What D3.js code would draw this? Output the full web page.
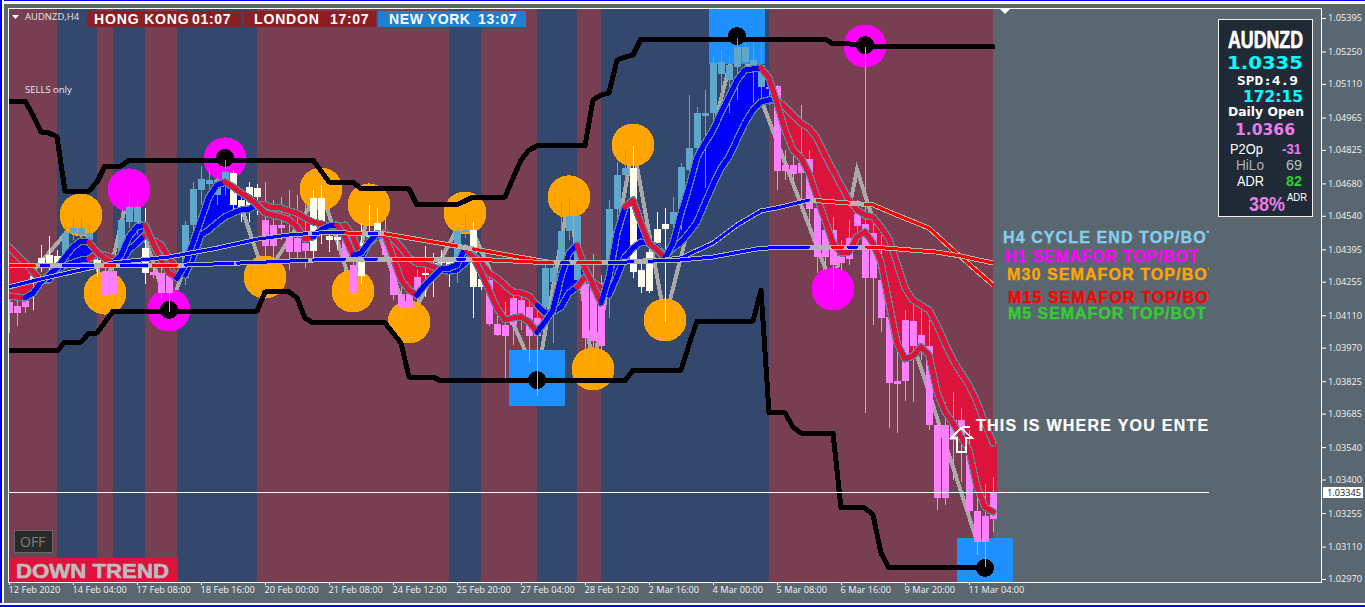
<!DOCTYPE html>
<html><head><meta charset="utf-8"><title>AUDNZD,H4</title>
<script src="https://cdn.jsdelivr.net/npm/d3@7"></script>
<style>html,body{margin:0;padding:0;background:#5b6770;overflow:hidden}svg{display:block}</style>
</head><body><div id="chart"></div>
<script>
// All prices are in points (1e-5). Bar index counts 4-hour bars from the left edge.
const priceTicks=[105395,105250,105110,104965,104825,104680,104540,104395,104255,104110,103970,103825,103685,103540,103400,103255,103110,102970];
const timeTickBars=[0,8,16,24,32,40,48,56,64,72,80,88,96,104,112,120];
const timeLabels=["12 Feb 2020","14 Feb 04:00","17 Feb 08:00","18 Feb 16:00","20 Feb 00:00","21 Feb 08:00","24 Feb 12:00","25 Feb 20:00","27 Feb 04:00","28 Feb 12:00","2 Mar 16:00","4 Mar 00:00","5 Mar 08:00","6 Mar 16:00","9 Mar 20:00","11 Mar 04:00"];
const lastPrice=103345;

const sessionStart=[0,6,11,13,17,21,31,55,59,66,71,74,95];
const sessionEnd=[6,11,13,17,21,31,55,59,66,71,74,95,123];
const sessionTrend=["down","up","down","up","down","up","down","up","down","up","down","up","down"];

const candleTone=["ppp","wwww","bbbb","w","pp","bbb","w","pppp","bbbbbb","wwww","pppppp","wwww","pp","www","ppppp","wwww","bb","ww","ppppppp","bbbbb","ppp","bbb","wwwww","bbbbbbbbbbbb","ppppppppppppppppppppppppppppp"].join("").split("");
const candleHigh=[104185,104176,104189,104306,104414,104453,104392,104509,104531,104531,104487,104383,104327,104327,104556,104643,104608,104574,104327,104314,104314,104306,104517,104686,104755,104746,104716,104781,104738,104652,104686,104678,104686,104608,104622,104652,104630,104587,104652,104673,104457,104457,104509,104414,104509,104587,104574,104535,104392,104263,104241,104306,104409,104379,104392,104349,104492,104548,104513,104306,104284,104176,104168,104219,104197,104176,104133,104340,104349,104600,104617,104574,104263,104375,104284,104608,104773,104824,104842,104340,104414,104556,104574,104622,104768,105062,105011,105084,105235,105257,105235,105309,105287,105287,105287,105127,105105,104824,104824,105019,104824,104652,104565,104535,104435,104522,104608,105270,104522,104457,104176,104046,104133,104168,104133,104090,103679,103735,103778,103709,103614,103355,103381,103411];
const candleBodyHigh=[104168,104150,104172,104280,104358,104370,104366,104466,104487,104487,104466,104349,104301,104301,104522,104578,104578,104400,104297,104293,104293,104276,104500,104656,104699,104695,104695,104729,104725,104608,104665,104660,104522,104500,104500,104449,104444,104422,104617,104617,104453,104449,104449,104327,104422,104470,104509,104426,104349,104202,104202,104276,104293,104336,104362,104340,104474,104479,104479,104267,104263,104072,104068,104185,104176,104146,104098,104314,104314,104474,104539,104539,104245,104263,104250,104569,104716,104746,104746,104306,104383,104483,104505,104556,104751,104833,104984,104984,105200,105205,105192,105270,105270,105213,105192,105097,105101,104760,104760,104768,104786,104574,104479,104479,104362,104444,104548,104505,104466,104263,104103,103826,104090,104085,104025,103977,103635,103635,103657,103657,103528,103264,103243,103346];
const candleBodyLow=[104120,104120,104146,104254,104314,104327,104336,104370,104466,104457,104435,104336,104193,104202,104379,104513,104513,104293,104284,104206,104206,104267,104271,104500,104652,104678,104630,104686,104587,104578,104578,104622,104409,104409,104487,104383,104383,104388,104388,104513,104435,104435,104362,104206,104280,104449,104470,104370,104197,104146,104146,104215,104284,104323,104336,104327,104362,104470,104232,104232,104072,104025,104020,104068,104107,104020,104020,104146,104254,104327,104474,104263,104012,103999,103977,104327,104569,104716,104297,104232,104215,104422,104483,104505,104543,104738,104833,104971,104984,105153,105127,105183,105205,105192,105097,105088,104734,104734,104721,104725,104569,104362,104362,104327,104336,104353,104496,104271,104271,104098,103817,103813,103826,103977,103977,103635,103320,103320,103571,103584,103264,103130,103130,103229];
const candleLow=[104033,104063,104120,104133,104297,104297,104314,104340,104435,104414,104400,104276,104176,104185,104340,104487,104457,104245,104271,104180,104124,104219,104241,104470,104587,104630,104587,104630,104543,104513,104513,104543,104271,104306,104435,104306,104349,104314,104340,104418,104383,104392,104284,104176,104245,104414,104435,104340,104176,104090,104072,104103,104189,104189,104306,104232,104250,104444,104098,104219,104063,104020,103839,103982,104046,103908,103761,104090,103990,104263,104435,104219,103895,103869,103960,104098,104500,104673,104271,104206,104206,104392,104081,104470,104479,104652,104781,104660,104932,104984,104984,105041,105149,105028,105041,105019,104652,104695,104673,104608,104500,104293,104306,104219,104306,104327,104435,103688,104068,104037,103623,103601,103739,103735,103917,103614,103268,103290,103398,103390,103247,103074,103022,103173];

const maFast=[104193,104189,104185,104206,104254,104284,104314,104362,104405,104431,104426,104383,104353,104336,104370,104449,104492,104500,104422,104349,104293,104271,104327,104426,104522,104622,104673,104686,104665,104639,104617,104587,104552,104543,104535,104522,104492,104440,104449,104479,104496,104500,104449,104370,104379,104426,104462,104457,104362,104263,104219,104197,104241,104276,104310,104314,104327,104400,104362,104297,104219,104141,104090,104098,104103,104081,104037,104081,104133,104276,104379,104413,104314,104241,104163,104276,104466,104578,104608,104509,104422,104392,104358,104422,104552,104665,104794,104855,104911,104988,105054,105127,105170,105175,105179,105136,105028,104911,104824,104790,104725,104622,104522,104422,104379,104383,104449,104470,104422,104340,104163,103990,103921,103934,103973,103938,103778,103692,103644,103584,103528,103368,103281,103260];
const maSlow=[104405,104370,104336,104297,104263,104263,104306,104327,104336,104349,104353,104379,104370,104358,104336,104392,104422,104457,104435,104414,104358,104314,104284,104358,104457,104479,104509,104535,104552,104565,104569,104587,104587,104574,104574,104561,104552,104531,104513,104505,104496,104492,104500,104449,104358,104422,104449,104466,104440,104405,104358,104336,104332,104319,104306,104301,104306,104336,104370,104336,104293,104271,104241,104211,104206,104193,104154,104120,104124,104146,104206,104232,104276,104254,104228,104197,104276,104362,104400,104426,104422,104405,104362,104400,104426,104466,104513,104595,104673,104746,104794,104868,104941,104997,105032,105041,105041,105011,104976,104941,104919,104876,104803,104738,104673,104608,104565,104543,104535,104492,104440,104336,104228,104176,104154,104133,104068,103990,103917,103861,103809,103735,103644,103558];
const fastBlueRuns=[[2,10],[13,17],[21,27],[38,41],[43,46],[51,57],[66,71],[74,77],[82,94]];
const slowBlueRuns=[[4,10],[14,17],[22,31],[44,47],[54,58],[66,71],[75,96]];

const longMaBars=[0,4,10,13,20,26,31,35,37,39,42,45,47,56,68,74,82,84,88,91,94,96,100,105,108,111,115,118,123];
const longMaValues=[104233,104267,104314,104336,104362,104400,104439,104457,104462,104466,104466,104462,104462,104409,104336,104336,104349,104358,104422,104500,104561,104574,104608,104595,104587,104543,104487,104392,104241];
const longMaRuns=[[0,37.25,"b"],[38,42,"b"],[42,44,"r"],[45,46,"b"],[47,56,"r"],[58,68,"r"],[75,100,"b"],[101,105,"r"],[107,123,"r"]];
const flatMaBars=[0,22,32,41,58,68,74,84,88,94,100,108,116,119,123];
const flatMaValues=[104323,104327,104340,104353,104353,104336,104336,104349,104362,104400,104405,104405,104383,104366,104336];
const flatMaRuns=[[0,3.25,"r"],[4,5,"b"],[6.75,10.5,"b"],[12,13.25,"r"],[14,17.25,"b"],[18,21,"r"],[22,28,"b"],[28.5,37.25,"b"],[38,42,"b"],[44.5,46,"b"],[48,53,"r"],[56,57,"b"],[58,68,"r"],[69,70,"b"],[71,74,"r"],[75,78,"b"],[80,100,"b"],[102.9,104.2,"r"],[104.9,106,"b"],[107.2,123,"r"]];

const channelTopBars=[0,2,3,4,5,6,7,10,11,12,14,15,38,39,40,43,44,50,51,56,57,58,62,63,64,65,66,72,73,74,75,76,77,78,79,102,103,105,106,107,123];
const channelTopValues=[105036,105036,104976,104902,104898,104881,104647,104647,104686,104755,104755,104781,104781,104734,104686,104686,104656,104656,104587,104587,104604,104621,104621,104703,104781,104824,104842,104842,105041,105062,105071,105213,105226,105235,105304,105304,105283,105283,105278,105270,105270];
const channelBottomBars=[0,6,7,9,10,11,12,13,31,32,35,36,37,38,47,48,49,50,53,54,77,78,84,85,86,93,94,95,97,98,99,103,104,107,108,109,110,122];
const channelBottomValues=[103956,103956,103994,103994,104033,104033,104081,104128,104128,104211,104211,104185,104098,104077,104077,104033,103990,103843,103843,103826,103826,103873,103873,103982,104085,104085,104219,103688,103688,103627,103601,103601,103277,103277,103247,103082,103018,103018];

const zigzagBars=[0,9,12,15,20,27,32,39,43,45,50,57,66,70,73,78,82,91,103,106,122];
const zigzagValues=[104176,104543,104206,104652,104133,104786,104275,104656,104215,104587,104081,104552,103839,104621,103878,104846,104090,105317,104224,104738,103026];

const m30Bars=[9,12,32,39,43,45,50,57,70,73,78,82];
const m30Values=[104543,104206,104275,104656,104215,104587,104081,104552,104622,103878,104846,104090];
const h1Bars=[15,20,27,103,107];
const h1Values=[104652,104133,104786,104224,105274];
const cycleBars=[66,91,122];
const cycleValues=[103839,105317,103026];
const dotBars=[20,27,66,91,107,122];
const dotValues=[104133,104790,103830,105317,105278,103018];

const sessionNames=["HONG KONG","LONDON","NEW YORK"];
const sessionTimes=["01:07","17:07","13:07"];
const legendLabels=["H4 CYCLE END TOP/BOT","H1 SEMAFOR TOP/BOT","M30 SEMAFOR TOP/BOT","M15 SEMAFOR TOP/BOT","M5 SEMAFOR TOP/BOT"];
const legendColors=["#87ceeb","#ff00ff","#ffa500","#ff0000","#32cd32"];

const W=1365,H=607;
const x=d3.scaleLinear().domain([0,150]).range([9,1209]);
const y=d3.scaleLinear().domain([105395,102970]).range([18,579]);
const svg=d3.select("#chart").append("svg").attr("width",W).attr("height",H).attr("viewBox",`0 0 ${W} ${H}`);
const SANS="'Open Sans','Noto Sans',sans-serif", ARIAL="'Liberation Sans',Arial,sans-serif", NARROW="'Liberation Sans Narrow','Liberation Sans',sans-serif";

svg.append("rect").attr("width",W).attr("height",H).attr("fill","#5b6770");
// window chrome
svg.append("rect").attr("x",0).attr("y",0).attr("width",W).attr("height",1).attr("fill","#0000ff");
svg.append("rect").attr("x",0).attr("y",1).attr("width",W).attr("height",3).attr("fill","#fff");
svg.append("rect").attr("x",0).attr("y",0).attr("width",2).attr("height",H).attr("fill","#0000ff");
svg.append("rect").attr("x",2).attr("y",0).attr("width",2).attr("height",H).attr("fill","#fff");
svg.append("rect").attr("x",0).attr("y",603).attr("width",W).attr("height",2).attr("fill","#fff");
svg.append("rect").attr("x",0).attr("y",605).attr("width",W).attr("height",2).attr("fill","#0000ff");

const defs=svg.append("defs");
defs.append("clipPath").attr("id","plot").append("rect").attr("x",9).attr("y",9).attr("width",1200).attr("height",573);
const plot=svg.append("g").attr("clip-path","url(#plot)").attr("shape-rendering","crispEdges");

// session bands
plot.append("g").selectAll("rect").data(sessionStart).join("rect")
  .attr("x",d=>x(d)).attr("y",9).attr("height",573)
  .attr("width",(d,i)=>x(sessionEnd[i])-x(d))
  .attr("fill",(d,i)=>sessionTrend[i]==="up"?"#34486e":"#783f52");

const lineOf=(bars,vals)=>d3.line().x(d=>x(d)).y((d,i)=>y(vals[i]))(bars);
// zigzag runs underneath the semafor markers
plot.append("path").attr("d",lineOf(zigzagBars,zigzagValues)).attr("fill","none").attr("stroke","#a9a9a9").attr("stroke-width",4);

// semafor markers
plot.append("g").selectAll("circle").data(m30Bars).join("circle")
  .attr("cx",d=>x(d)).attr("cy",(d,i)=>y(m30Values[i])).attr("r",21.5).attr("fill","#ffa500");
plot.append("g").selectAll("circle").data(h1Bars).join("circle")
  .attr("cx",d=>x(d)).attr("cy",(d,i)=>y(h1Values[i])).attr("r",21.5).attr("fill","#ff00ff");
plot.append("g").selectAll("rect").data(cycleBars).join("rect")
  .attr("x",d=>x(d)-28).attr("y",(d,i)=>y(cycleValues[i])-28).attr("width",56).attr("height",56).attr("fill","#1e90ff");

// channel
[[channelTopBars,channelTopValues],[channelBottomBars,channelBottomValues]].forEach(([b,v])=>{
  plot.append("path").attr("d",lineOf(b,v)).attr("fill","none").attr("stroke","#000").attr("stroke-width",5).attr("stroke-linejoin","round").attr("stroke-linecap","round");
});
plot.append("g").selectAll("circle").data(dotBars).join("circle")
  .attr("cx",d=>x(d)).attr("cy",(d,i)=>y(dotValues[i])).attr("r",9).attr("fill","#000");

// ribbon between the fast and the slow average
const barIdx=d3.range(maFast.length);
const lastBar=barIdx[barIdx.length-1];
const ribbonRuns=[];
barIdx.slice(0,-1).forEach(i=>{
  const up=maFast[i]+maFast[i+1]>=maSlow[i]+maSlow[i+1];
  const last=ribbonRuns[ribbonRuns.length-1];
  if(last&&last.up===up) last.bars.push(i+1); else ribbonRuns.push({up,bars:[i,i+1]});
});
ribbonRuns[ribbonRuns.length-1].bars.push(lastBar+0.5); // the last bar keeps its width
const ribbon=d3.area().x(d=>x(d)).y0(d=>y(maFast[Math.floor(d)])).y1(d=>y(maSlow[Math.floor(d)]));
plot.append("g").selectAll("path").data(ribbonRuns).join("path")
  .attr("d",d=>ribbon(d.bars)).attr("fill",d=>d.up?"#0000ff":"#dc143c");

// candles
const toneColor={b:"#5fa8cc",w:"#fffff0",p:"#ff80ff"};
const candles=plot.append("g").selectAll("g").data(barIdx).join("g");
candles.append("rect").attr("x",i=>Math.round(x(i))).attr("width",1)
  .attr("y",i=>y(candleHigh[i])).attr("height",i=>y(candleLow[i])-y(candleHigh[i]))
  .attr("fill",i=>toneColor[candleTone[i]]);
candles.append("rect").attr("x",i=>Math.round(x(i))-3).attr("width",7)
  .attr("y",i=>y(candleBodyHigh[i])).attr("height",i=>Math.max(1,y(candleBodyLow[i])-y(candleBodyHigh[i])))
  .attr("fill",i=>toneColor[candleTone[i]]);

// fast and slow averages, each with its own trend runs
function drawAverage(vals,blueRuns){
  const line=d3.line().x(d=>x(d)).y(d=>y(vals[d]));
  plot.append("path").attr("d",line(barIdx)).attr("fill","none").attr("stroke","#5f8799").attr("stroke-width",7.5).attr("stroke-linejoin","round").attr("stroke-linecap","round");
  const runs=[]; let cur=0;
  blueRuns.forEach(([a,b])=>{
    if(a>cur) runs.push({up:false,bars:d3.range(cur,a+1)});
    runs.push({up:true,bars:d3.range(a,b+1)});
    cur=b;
  });
  if(cur<lastBar) runs.push({up:false,bars:d3.range(cur,lastBar+1)});
  plot.append("g").selectAll("path").data(runs).join("path").attr("d",d=>line(d.bars))
    .attr("fill","none").attr("stroke",d=>d.up?"#0000ff":"#dc143c").attr("stroke-width",5).attr("stroke-linejoin","round").attr("stroke-linecap","round");
}
drawAverage(maSlow,slowBlueRuns);
drawAverage(maFast,fastBlueRuns);

// long averages
function drawLong(bars,vals,runs){
  const at=d3.scaleLinear().domain(bars).range(vals);
  plot.append("path").attr("d",lineOf(bars,vals)).attr("fill","none").attr("stroke","#b4b4b4").attr("stroke-width",5);
  const l=d3.line().x(d=>x(d)).y(d=>y(at(d)));
  runs.forEach(([a,b,t])=>{
    const pts=[a,...bars.filter(v=>v>a&&v<b),b];
    plot.append("path").attr("d",l(pts)).attr("fill","none").attr("stroke",t==="b"?"#0000ff":"#ff0000").attr("stroke-width",3).attr("stroke-linecap","round");
  });
}
drawLong(longMaBars,longMaValues,longMaRuns);
drawLong(flatMaBars,flatMaValues,flatMaRuns);

// price line
plot.append("line").attr("x1",9).attr("x2",1209).attr("y1",y(lastPrice)).attr("y2",y(lastPrice)).attr("stroke","#fff");

// frame
svg.append("rect").attr("x",8.5).attr("y",8.5).attr("width",1313).attr("height",573.5).attr("fill","none").attr("stroke","#fff").attr("shape-rendering","crispEdges");

// axes
const yAxis=d3.axisRight(y).tickValues(priceTicks).tickSize(4).tickPadding(2).tickFormat(d=>(d/1e5).toFixed(5));
const ya=svg.append("g").attr("transform","translate(1322,0)").call(yAxis);
ya.select(".domain").remove();
ya.selectAll("line").attr("stroke","#fff");
ya.selectAll("text").attr("fill","#f2f2f2").attr("font-family",SANS).attr("font-size",9.2);
const xAxis=d3.axisBottom(x).tickValues(timeTickBars).tickSize(3).tickPadding(1).tickFormat((d,i)=>timeLabels[i]);
const xa=svg.append("g").attr("transform","translate(0,582)").call(xAxis);
xa.select(".domain").remove();
xa.selectAll("line").attr("stroke","#fff");
xa.selectAll("text").attr("fill","#f2f2f2").attr("font-family",SANS).attr("font-size",9.2).attr("text-anchor","start").attr("dx",-1);

// last price tag
svg.append("rect").attr("x",1323).attr("y",487).attr("width",40).attr("height",11).attr("fill","#fff");
svg.append("text").attr("x",1327).attr("y",496).text((lastPrice/1e5).toFixed(5)).attr("fill","#222").attr("font-family",SANS).attr("font-size",9.2);

function txt(g,x0,y0,s,o={}){
  const t=g.append("text").attr("x",x0).attr("y",y0).text(s)
    .attr("fill",o.c||"#fff").attr("font-family",o.f||ARIAL).attr("font-size",o.s||12).attr("font-weight",o.w||"normal");
  if(o.ls!=null)t.attr("letter-spacing",o.ls);
  if(o.tl)t.attr("textLength",o.tl).attr("lengthAdjust","spacingAndGlyphs");
  if(o.sw)t.attr("stroke",o.c||"#fff").attr("stroke-width",o.sw);
  return t;
}
// header
svg.append("path").attr("d","M12 15H19L15.5 19Z").attr("fill","#fff");
txt(svg,25,20,"AUDNZD,H4",{f:SANS,s:9.5,c:"#e6e6e6"});
svg.append("path").attr("d","M1000 9H1010L1005 14Z").attr("fill","#fff");
const boxX=[87,244,378],boxW=[154,132,148],boxC=["#8b1f24","#8b1f24","#1e7fd6"],nameX=[94,254,389],timeX=[192,330,478],nameLs=[0.85,0.85,0.6];
sessionNames.forEach((n,i)=>{
  svg.append("rect").attr("x",boxX[i]).attr("y",11).attr("width",boxW[i]).attr("height",16).attr("fill",boxC[i]);
  txt(svg,nameX[i],24,n,{w:"bold",s:14,ls:nameLs[i]});
  txt(svg,timeX[i],24,sessionTimes[i],{w:"bold",s:14,ls:0.7});
});
txt(svg,25,93,"SELLS only",{f:SANS,s:9.5,c:"#e6e6e6"});

// OFF + trend
svg.append("rect").attr("x",14.5).attr("y",530.5).attr("width",38).attr("height",22).attr("fill","#2a2a2a").attr("stroke","#666");
txt(svg,20,546.5,"OFF",{f:SANS,s:14,c:"#7f7f7f"});
svg.append("rect").attr("x",9).attr("y",558).attr("width",169).attr("height",24).attr("fill","#dc143c");
txt(svg,16,578,"DOWN TREND",{w:"bold",s:21,c:"#bdbdbd",tl:153,sw:0.6});

// legend, cut at the plot's right edge
const notes=svg.append("g").attr("clip-path","url(#plot)");
const legendX=[1003,1005,1007,1008,1008],legendY=[243,262,280,303,319],legendLs=[1.1,0.75,1.1,1.1,0.95];
legendLabels.forEach((l,i)=>txt(notes,legendX[i],legendY[i],l,{w:"bold",s:16,c:legendColors[i],ls:legendLs[i],sw:0.35}));
txt(notes,976,431,"THIS IS WHERE YOU ENTER",{w:"bold",s:16,ls:1.25,sw:0.2});
// entry arrow on bar 119
const ax=x(119);
svg.append("path").attr("d",`M${ax} 428L${ax+11} 438H${ax+5}V452H${ax-4}V438H${ax-10}ZM${ax+1} 427H${ax+9}`)
  .attr("fill","none").attr("stroke","#fff").attr("stroke-width",1.6).attr("shape-rendering","crispEdges");

// info panel
const panel=svg.append("g");
panel.append("rect").attr("x",1218.5).attr("y",19.5).attr("width",94).attr("height",197).attr("fill","#1f2a36").attr("stroke","#f0f0f0");
txt(panel,1228,48,"AUDNZD",{f:NARROW,w:"bold",s:24,tl:75,sw:0.7});
txt(panel,1227,68.5,"1.0335",{f:"'DejaVu Sans'",w:"bold",s:17,c:"#00ffff",tl:76});
txt(panel,1237,84.5,"SPD:4.9",{f:"'DejaVu Sans Mono'",w:"bold",s:13,tl:61});
txt(panel,1243,102,"172:15",{f:"'DejaVu Sans'",w:"bold",s:15.5,c:"#00ffff",tl:60});
txt(panel,1228,116,"Daily Open",{f:"'DejaVu Sans'",w:"bold",s:12.5,tl:76});
txt(panel,1235,135,"1.0366",{f:"'DejaVu Sans'",w:"bold",s:15.5,c:"#e67ee6",tl:60});
txt(panel,1230,154,"P2Op",{s:14,tl:33});
txt(panel,1282,154,"-31",{w:"bold",s:14,c:"#e67ee6",tl:19});
txt(panel,1236,170,"HiLo",{s:14,c:"#b0b0b0",tl:28});
txt(panel,1286,170,"69",{s:14,c:"#c0c0c0",tl:16});
txt(panel,1237,186,"ADR",{s:14,tl:27});
txt(panel,1286,186,"82",{w:"bold",s:14,c:"#32cd32",tl:16});
txt(panel,1249,211,"38%",{f:NARROW,w:"bold",s:21,c:"#e67ee6",tl:36});
txt(panel,1287,201,"ADR",{s:10.5,tl:20});
</script></body></html>
